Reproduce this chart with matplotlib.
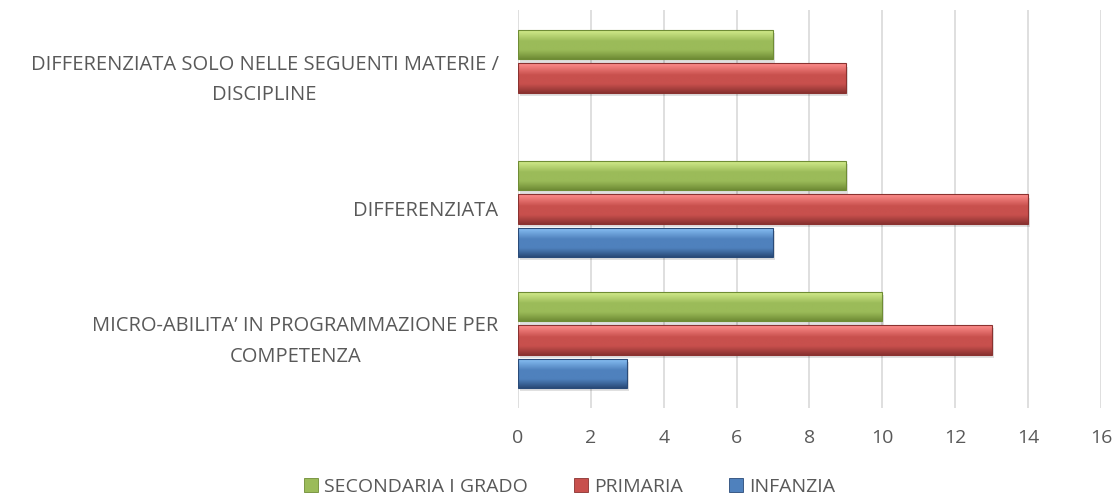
import numpy as np
import matplotlib.pyplot as plt
from matplotlib.colors import to_rgb
from matplotlib.patches import Patch
from matplotlib.transforms import ScaledTranslation

# data
categories = [
    "MICRO-ABILITA\u2019 IN PROGRAMMAZIONE PER\nCOMPETENZA",
    "DIFFERENZIATA",
    "DIFFERENZIATA SOLO NELLE SEGUENTI MATERIE /\nDISCIPLINE",
]
series_names = ["SECONDARIA I GRADO", "PRIMARIA", "INFANZIA"]
secondaria = [10, 9, 7]
primaria = [13, 14, 9]
infanzia = [3, 7, 0]
x_ticks = [0, 2, 4, 6, 8, 10, 12, 14, 16]

# styles: (light, mid, dark)
palettes = [
    ("#d8f090", "#9bbb59", "#6f8c35"),
    ("#ff8e8c", "#c8504d", "#8a3230"),
    ("#8cc4f8", "#4f81bd", "#2a4b78"),
]
offsets = [0.255, 0.0, -0.255]
bar_h = 0.225
text_color = "#595959"
fs = 14
plt.rcParams['font.family'] = ['Open Sans', 'DejaVu Sans']


def gradient(light, mid, dark, n=64):
    l, m, d = (np.array(to_rgb(c)) for c in (light, mid, dark))
    t = np.linspace(0, 1, n)  # 0 = bottom, 1 = top
    rows = []
    for v in t:
        if v > 0.6:
            a = (v - 0.6) / 0.4
            rows.append(m * (1 - a) + l * a)
        elif v > 0.3:
            rows.append(m)
        else:
            a = v / 0.3
            rows.append(d * (1 - a) + m * a)
    g = np.array(rows)[:, None, :]
    return np.repeat(g, 2, axis=1)


fig = plt.figure(figsize=(11.17, 4.99), dpi=100)
ax = fig.add_axes([0.4637, 0.1824, 0.522, 0.7976])

y = np.arange(len(categories))
for vals, off, pal in zip([secondaria, primaria, infanzia], offsets, palettes):
    bars = ax.barh(y + off, vals, height=bar_h, color=pal[1], zorder=3)
    img = gradient(*pal)
    for b in bars:
        w = b.get_width()
        if w <= 0:
            b.set_visible(False)
            continue
        x0, y0, h = b.get_x(), b.get_y(), b.get_height()
        # soft shadow
        ax.add_patch(plt.Rectangle((x0 + 0.05, y0 - 0.025), w, h, color="#000000",
                                   alpha=0.12, lw=0, zorder=2))
        im = ax.imshow(img, extent=(x0, x0 + w, y0, y0 + h), origin='lower',
                       aspect='auto', zorder=4, interpolation='bilinear')
        im.set_clip_path(b)
        ax.add_patch(plt.Rectangle((x0, y0), w, h, fill=False, edgecolor=pal[2],
                                   lw=0.8, zorder=5))

ax.set_xlim(0, 16)
ax.set_ylim(-0.52, 2.52)
ax.set_xticks(x_ticks)
ax.set_yticks(y)
ax.set_yticklabels(categories, multialignment='center', linespacing=1.7)
ax.tick_params(axis='x', length=0, pad=15, labelsize=fs, labelcolor=text_color)
ax.tick_params(axis='y', length=0, pad=14, labelsize=14.5, labelcolor=text_color)
# multi-line labels sit a little low; nudge them up
for lab in ax.get_yticklabels():
    if "\n" in lab.get_text():
        lab.set_transform(lab.get_transform() + ScaledTranslation(0, 0.06, fig.dpi_scale_trans))
ax.grid(axis='x', color="#d9d9d9", lw=1.2, zorder=0)
ax.set_axisbelow(True)
for s in ax.spines.values():
    s.set_visible(False)

handles = [Patch(facecolor=p[1], edgecolor=p[2], lw=0.6) for p in palettes]
fig.legend(handles, series_names, loc='center', bbox_to_anchor=(0.51, 0.025),
           ncol=3, frameon=False, fontsize=fs, labelcolor=text_color,
           handlelength=0.7, handleheight=0.7, handletextpad=0.3, columnspacing=2.4)

fig.savefig("out.png", dpi=100)
